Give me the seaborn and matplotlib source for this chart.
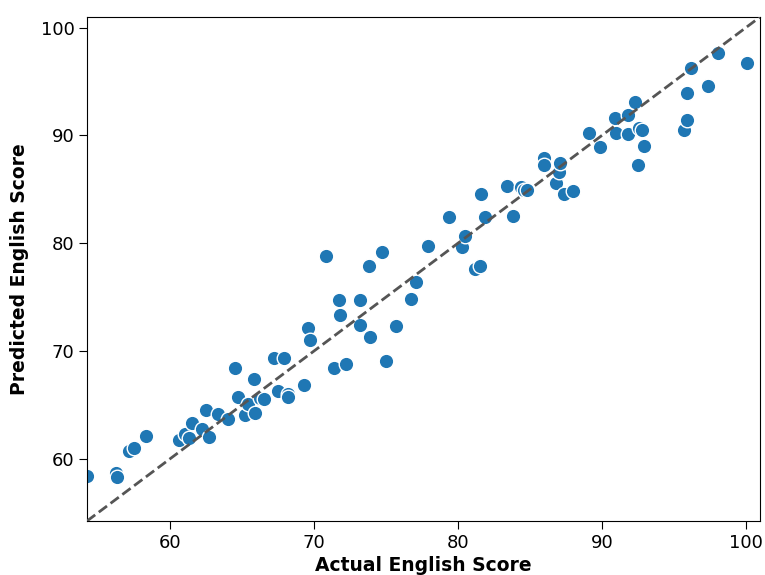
import matplotlib
matplotlib.use("Agg")
import matplotlib.pyplot as plt
import seaborn as sns
import pandas as pd

# Actual vs predicted English scores
actual = [54.2, 56.2, 56.3, 57.1, 57.5, 58.3, 60.6, 61.0, 61.3, 61.5,
          62.2, 62.5, 62.7, 63.3, 64.0, 64.5, 64.7, 65.2, 65.4, 65.8,
          65.9, 66.2, 66.5, 67.2, 67.5, 67.9, 68.2, 68.2, 69.3, 69.6,
          69.7, 70.8, 71.4, 71.7, 71.8, 72.2, 73.2, 73.2, 73.8, 73.9,
          74.7, 75.0, 75.7, 76.7, 77.1, 77.9, 79.4, 80.3, 80.5, 81.2,
          81.5, 81.6, 81.9, 83.4, 83.8, 84.4, 84.6, 84.8, 86.0, 86.0,
          86.8, 87.0, 87.1, 87.4, 88.0, 89.1, 89.9, 90.9, 91.0, 91.8,
          91.8, 92.3, 92.5, 92.6, 92.8, 92.9, 95.7, 95.9, 95.9, 96.2,
          97.4, 98.1, 100.1]
predicted = [58.4, 58.7, 58.3, 60.7, 61.0, 62.1, 61.7, 62.3, 61.9, 63.3,
             62.7, 64.5, 62.0, 64.1, 63.7, 68.4, 65.7, 64.0, 65.1, 67.4,
             64.2, 65.6, 65.5, 69.3, 66.3, 69.3, 66.0, 65.7, 66.8, 72.1,
             71.0, 78.8, 68.4, 74.7, 73.3, 68.8, 72.4, 74.7, 77.9, 71.3,
             79.2, 69.1, 72.3, 74.8, 76.4, 79.7, 82.4, 79.6, 80.7, 77.6,
             77.9, 84.6, 82.4, 85.3, 82.5, 85.2, 84.9, 84.9, 87.9, 87.3,
             85.6, 86.6, 87.4, 84.6, 84.8, 90.2, 88.9, 91.6, 90.2, 91.9,
             90.1, 93.1, 87.3, 90.7, 90.5, 89.0, 90.5, 91.4, 93.9, 96.3,
             94.6, 97.7, 96.7]

lims = [54.2, 101.0]

df = pd.DataFrame({"Actual": actual, "Predicted": predicted})

fig, ax = plt.subplots(figsize=(7.65, 5.75), dpi=100)
fig.subplots_adjust(left=0.1137, right=0.9935, top=0.9704, bottom=0.0939)

sns.scatterplot(data=df, x="Actual", y="Predicted", s=110, color="#1f77b4",
                edgecolor="white", linewidth=1, ax=ax, zorder=2)
ax.plot(lims, lims, linestyle="--", color="#555555", linewidth=2, zorder=3)

ax.set_xlim(lims)
ax.set_ylim(lims)
ax.set_xticks([60, 70, 80, 90, 100])
ax.set_yticks([60, 70, 80, 90, 100])
ax.tick_params(labelsize=13, length=5.5)
ax.set_xlabel("Actual English Score", fontsize=13.5, fontweight="bold", labelpad=3)
ax.set_ylabel("Predicted English Score", fontsize=13.5, fontweight="bold", labelpad=8)

plt.savefig("out.png", dpi=100)
plt.close()
